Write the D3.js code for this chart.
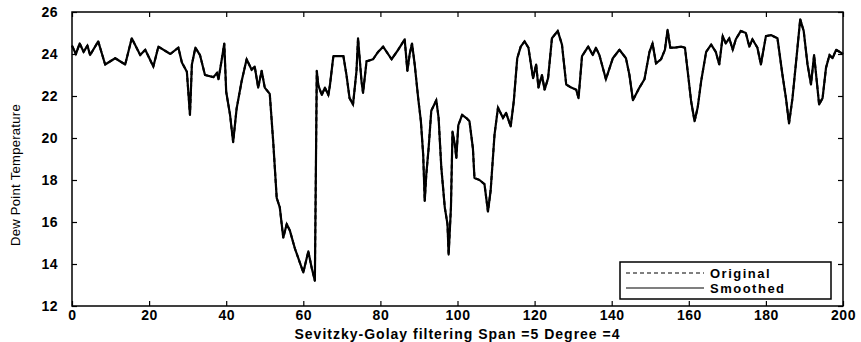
<!DOCTYPE html>
<html>
<head>
<meta charset="utf-8">
<script src="https://cdn.jsdelivr.net/npm/d3@7"></script>
<style>
  body { margin: 0; background: #fff; }
  text { font-family: "Liberation Sans", Arial, sans-serif; }
</style>
</head>
<body>
<div id="root"></div>
<script>
// sample positions (x) and dew point readings (y)
const sampleX = [0, 1, 2, 3, 4, 4.7, 6.8, 8.6, 11.2, 13.8, 15.5, 17.7, 19, 21.1, 22.4, 25.5, 27.6, 28.5, 29.8, 30.6,
  31.1, 32, 33.2, 34.5, 36.7, 37.6, 38, 38.9, 39.5, 40, 41, 41.8, 42.7, 44, 45.3, 46.6, 47.4, 48.3, 49.2, 50,
  51.3, 52.2, 53.1, 53.9, 54.8, 55.7, 56.5, 57.8, 60, 61.3, 62.2, 63, 63.5, 63.9, 64.8, 65.6, 66.5, 66.9, 67.8, 70.4,
  71.2, 72, 72.9, 73.8, 74.2, 75.1, 75.5, 76.4, 78.1, 79.4, 80.7, 82.9, 84.6, 86.3, 87, 87.6, 88.2, 88.9, 89.8, 90.5,
  91.1, 91.5, 91.9, 92.5, 93.2, 94.5, 95.1, 95.8, 96.7, 97.4, 97.7, 98.3, 98.7, 99.3, 99.7, 100.2, 101.2, 102.3, 103.1, 104,
  104.4, 105.7, 107, 107.9, 108.6, 109.6, 110.5, 111.8, 112.6, 113.8, 114.6, 115.5, 116.4, 117.4, 118.4, 119.6, 120.4, 121, 121.9, 122.6,
  123.5, 124.5, 126, 127.1, 128.2, 129.5, 130.8, 131.4, 132.3, 133.9, 135.1, 135.9, 136.8, 138.5, 140.3, 142, 143.7, 144.6, 145.5, 147.2,
  148.5, 149.8, 150.6, 151.5, 152.8, 153.8, 154.5, 155.2, 156.4, 158, 159, 159.7, 160.6, 161.5, 162.3, 163.2, 164.5, 165.8, 167, 167.9,
  168.8, 169.6, 170.5, 171.4, 172.2, 173.5, 174.8, 175.7, 176.5, 177.8, 178.7, 180, 181.3, 183, 184.3, 185.2, 186, 186.9, 188, 188.9,
  189.8, 190.8, 191.7, 192.5, 193.2, 193.8, 194.7, 195.6, 196.5, 197.3, 198.2, 200];

const smoothed = [24.4, 24.0, 24.5, 24.1, 24.4, 23.95, 24.6, 23.5, 23.8, 23.5, 24.75, 23.95, 24.2, 23.4, 24.35, 24.0, 24.3, 23.6, 23.15, 21.1,
  23.5, 24.3, 23.95, 23.0, 22.9, 23.1, 22.8, 23.8, 24.5, 22.2, 21.1, 19.8, 21.4, 22.7, 23.75, 23.25, 23.4, 22.4, 23.2, 22.4,
  22.1, 19.8, 17.15, 16.7, 15.25, 15.9, 15.6, 14.75, 13.6, 14.6, 13.8, 13.2, 23.2, 22.5, 22.05, 22.4, 22.05, 22.5, 23.9, 23.9,
  23.0, 21.9, 21.6, 23.2, 24.75, 22.7, 22.15, 23.65, 23.75, 24.1, 24.35, 23.75, 24.2, 24.7, 23.2, 24.0, 24.5, 23.5, 21.9, 20.8,
  19.2, 17.0, 18.25, 19.5, 21.3, 21.8, 20.95, 18.6, 16.7, 15.9, 14.45, 16.7, 20.3, 19.7, 19.05, 20.6, 21.1, 20.95, 20.8, 19.5,
  18.1, 18.0, 17.8, 16.5, 17.5, 20.15, 21.45, 20.95, 21.2, 20.55, 21.75, 23.8, 24.35, 24.6, 24.3, 22.85, 23.5, 22.4, 23.0, 22.3,
  22.85, 24.75, 25.1, 24.45, 22.55, 22.4, 22.3, 21.9, 23.9, 24.35, 23.95, 24.3, 23.95, 22.8, 23.8, 24.2, 23.8, 23.0, 21.8, 22.4,
  22.8, 24.1, 24.5, 23.55, 23.75, 24.2, 25.15, 24.3, 24.3, 24.35, 24.3, 23.2, 21.75, 20.8, 21.45, 22.7, 24.1, 24.45, 24.1, 23.5,
  24.85, 24.5, 24.75, 24.2, 24.7, 25.1, 25.0, 24.35, 24.7, 24.3, 23.5, 24.85, 24.9, 24.75, 23.0, 21.9, 20.7, 21.9, 23.95, 25.65,
  25.1, 23.5, 22.55, 23.95, 22.7, 21.6, 21.9, 23.35, 23.95, 23.8, 24.2, 24.0];

// the original trace sits under the smoothed one at this scale
const original = smoothed.slice();

const xTicks = [0, 20, 40, 60, 80, 100, 120, 140, 160, 180, 200];
const yTicks = [12, 14, 16, 18, 20, 22, 24, 26];
const legendLabels = ['Original', 'Smoothed'];

const width = 861, height = 342;
const margin = { top: 12, right: 18, bottom: 36, left: 72 };

const svg = d3.select('#root').append('svg')
  .attr('width', width)
  .attr('height', height)
  .attr('viewBox', [0, 0, width, height]);

const x = d3.scaleLinear().domain([0, 200]).range([margin.left, width - margin.right]);
const y = d3.scaleLinear().domain([12, 26]).range([height - margin.bottom, margin.top]);

// lines
const line = d3.line()
  .x((d, i) => x(sampleX[i]))
  .y(d => y(d));

svg.append('path')
  .datum(original)
  .attr('fill', 'none')
  .attr('stroke', '#000')
  .attr('stroke-width', 2)
  .attr('stroke-dasharray', '4,3')
  .attr('d', line);

svg.append('path')
  .datum(smoothed)
  .attr('fill', 'none')
  .attr('stroke', '#000')
  .attr('stroke-width', 2.2)
  .attr('stroke-linejoin', 'round')
  .attr('d', line);

// axes, ticks inside like matlab
const tickStyle = g => {
  g.select('.domain').remove();
  g.selectAll('.tick line').attr('stroke', '#000').attr('stroke-width', 1.2);
  g.selectAll('.tick text')
    .attr('fill', '#000')
    .style('font-size', '14px')
    .style('font-weight', 'bold')
    .style('letter-spacing', '0.5px');
};

svg.append('g')
  .attr('transform', `translate(0,${y(12)})`)
  .call(d3.axisBottom(x).tickValues(xTicks).tickSizeInner(-5).tickPadding(4))
  .call(tickStyle);

svg.append('g')
  .attr('transform', `translate(${x(0)},0)`)
  .call(d3.axisLeft(y).tickValues(yTicks).tickSizeInner(-5).tickPadding(14))
  .call(tickStyle);

svg.append('g')
  .attr('transform', `translate(0,${y(26)})`)
  .call(d3.axisTop(x).tickValues(xTicks).tickSizeInner(-5).tickFormat(''))
  .call(tickStyle);

svg.append('g')
  .attr('transform', `translate(${x(200)},0)`)
  .call(d3.axisRight(y).tickValues(yTicks).tickSizeInner(-5).tickFormat(''))
  .call(tickStyle);

// frame
svg.append('rect')
  .attr('x', x(0))
  .attr('y', y(26))
  .attr('width', x(200) - x(0))
  .attr('height', y(12) - y(26))
  .attr('fill', 'none')
  .attr('stroke', '#000')
  .attr('stroke-width', 1.5);

// axis titles
svg.append('text')
  .attr('x', (x(0) + x(200)) / 2)
  .attr('y', height - 3)
  .attr('text-anchor', 'middle')
  .style('font-size', '14px')
  .style('font-weight', 'bold')
  .style('letter-spacing', '1px')
  .text('Sevitzky-Golay filtering Span =5 Degree =4');

svg.append('text')
  .attr('transform', `translate(20,175) rotate(-90)`)
  .attr('text-anchor', 'middle')
  .style('font-size', '13px')
  .style('letter-spacing', '0.3px')
  .text('Dew Point Temperature');

// legend
const legend = svg.append('g').attr('transform', 'translate(620,262)');
legend.append('rect')
  .attr('width', 211)
  .attr('height', 37)
  .attr('fill', '#fff')
  .attr('stroke', '#000')
  .attr('stroke-width', 1.5);

legendLabels.forEach((label, i) => {
  const ly = 11 + i * 15;
  legend.append('line')
    .attr('x1', 6).attr('x2', 84)
    .attr('y1', ly).attr('y2', ly)
    .attr('stroke', '#000')
    .attr('stroke-width', 1.2)
    .attr('stroke-dasharray', i === 0 ? '4,3' : null);
  legend.append('text')
    .attr('x', 90)
    .attr('y', ly + 5)
    .style('font-size', '13px')
    .style('font-weight', 'bold')
    .style('letter-spacing', '1.5px')
    .text(label);
});
</script>
</body>
</html>
